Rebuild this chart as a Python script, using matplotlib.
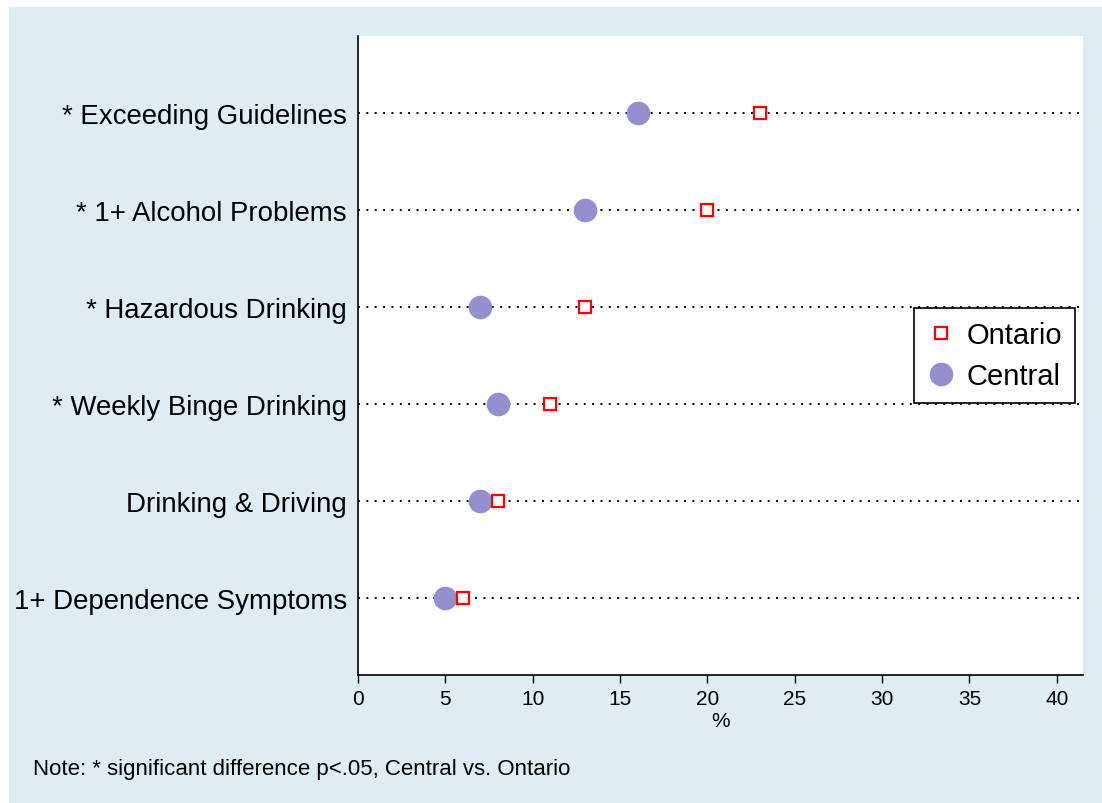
# Alcohol indicators: Central vs Ontario dot plot

from matplotlib import pyplot as plt
from matplotlib.patches import Rectangle
import numpy as np

plt.rcParams['font.family'] = ['Liberation Sans', 'DejaVu Sans']

labels = ['* Exceeding Guidelines', '* 1+ Alcohol Problems', '* Hazardous Drinking',
          '* Weekly Binge Drinking', 'Drinking & Driving', '1+ Dependence Symptoms']
ontario = [23, 20, 13, 11, 8, 6]
central = [16, 13, 7, 8, 7, 5]
xticks = [0, 5, 10, 15, 20, 25, 30, 35, 40]

fig = plt.figure(figsize=(11.02, 8.04), dpi=100)
fig.patch.set_facecolor('white')
fig.patches.append(Rectangle((9/1102, 0), 1 - 9/1102, 1 - 8/804, transform=fig.transFigure,
                             facecolor='#deedf4', edgecolor='none', zorder=-1))

ax = fig.add_axes([358/1102, 1 - 676/804, (1083 - 358)/1102, (676 - 37)/804])
ax.set_facecolor('white')

y = np.arange(len(labels))[::-1] + 1
for yy in y:
    ax.axhline(yy, color='black', linestyle=(0, (1, 3.3)), linewidth=1.4, zorder=1)

ax.plot(ontario, y, linestyle='none', marker='s', markersize=8.5, markerfacecolor='white',
        markeredgecolor='#ff0000', markeredgewidth=1.6, label='Ontario', zorder=3)
ax.plot(central, y, linestyle='none', marker='o', markersize=16, markerfacecolor='#948fcf',
        markeredgecolor='#948fcf', label='Central', zorder=2)

ax.set_xlim(0, 41.5)
ax.set_ylim(0.2, 6.8)
ax.set_xticks(xticks)
ax.set_xticklabels([str(t) for t in xticks], fontsize=15)
ax.set_yticks(y)
ax.set_yticklabels(labels, fontsize=19.9)
ax.tick_params(axis='y', length=0, pad=8)
ax.tick_params(axis='x', length=6, width=1, pad=4)
for s in ['top', 'right']:
    ax.spines[s].set_visible(False)
for s in ['left', 'bottom']:
    ax.spines[s].set_linewidth(1.2)
ax.set_xlabel('%', fontsize=15, labelpad=2)

leg = ax.legend(loc='center right', bbox_to_anchor=(0.989, 0.5), fontsize=21,
                frameon=True, fancybox=False, edgecolor='black', framealpha=1,
                handletextpad=0.35, borderpad=0.45, borderaxespad=0,
                labelspacing=0.45, handlelength=1.0)
leg.get_frame().set_linewidth(1.2)

fig.text(33/1102, 1 - 770/804, 'Note: * significant difference p<.05, Central vs. Ontario',
         fontsize=16, va='center', ha='left')

fig.savefig('out.png', dpi=100)
